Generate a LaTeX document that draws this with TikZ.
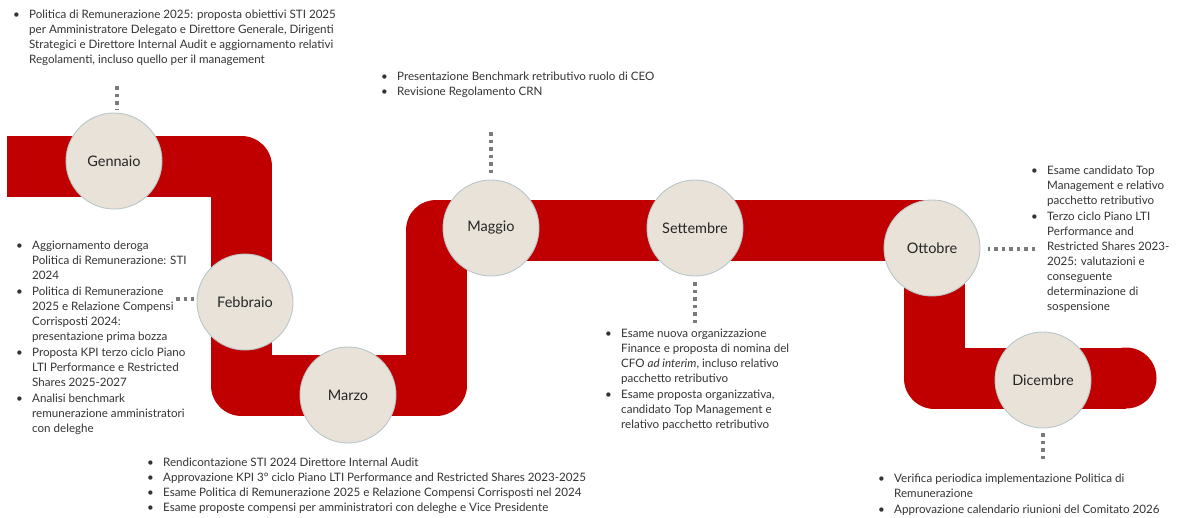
\documentclass[tikz,border=0pt]{standalone}
\usepackage{fontspec}
\setmainfont{Lato}
\usepackage{xcolor}
\usetikzlibrary{positioning}
\definecolor{ribbon}{HTML}{C00000}
\definecolor{disc}{HTML}{E8E2D8}
\definecolor{discline}{HTML}{B9C6C9}
\definecolor{dotgray}{HTML}{7A7A7A}
\definecolor{txt}{HTML}{333333}
\newcommand{\bitem}[1]{\makebox[16pt][l]{\textbullet}\begin{tabular}[t]{@{}l@{}}#1\end{tabular}}

\begin{document}
\begin{tikzpicture}[x=1pt,y=-1pt,
  month/.style={circle,draw=discline,line width=0.9pt,fill=disc,minimum size=96pt,inner sep=0pt,font=\fontsize{14.5}{16}\selectfont,text=black!85},
  notes/.style={anchor=north west,inner sep=0pt,align=left,text=txt,font=\fontsize{11.6}{15}\selectfont},
  dots/.style={dotgray,line width=3.5pt,dash pattern=on 3.5pt off 4pt}
]
\useasboundingbox (0,0) rectangle (1177,517);
\draw[ribbon,line width=61pt,line join=round] (7,166) -- (241,166) -- (241,385) -- (436,385) -- (436,230) -- (934,230) -- (934,378) -- (1126,378);
\fill[ribbon] (1126,378) circle (30.5pt);

\node[month] (gen) at (114,161) {Gennaio};
\node[month] (feb) at (245,302) {Febbraio};
\node[month] (mar) at (348,395) {Marzo};
\node[month] (mag) at (491,228) {Maggio};
\node[month] (set) at (695,228) {Settembre};
\node[month] (ott) at (932,248) {Ottobre};
\node[month] (dic) at (1043,380) {Dicembre};

\coordinate (genT) at (117,86);
\coordinate (febL) at (176,299);
\coordinate (magT) at (491,132);
\coordinate (setB) at (695,323);
\coordinate (ottR) at (1035,249);
\coordinate (dicB) at (1043,459);
\draw[dots] (genT) -- ([yshift=4pt]genT |- gen.north);
\draw[dots] (febL) -- ([xshift=-3pt]febL -| feb.west);
\draw[dots] (magT) -- ([yshift=4pt]mag.north);
\draw[dots] (setB) -- ([yshift=-4pt]set.south);
\draw[dots] (ottR) -- ([xshift=8pt]ottR -| ott.east);
\draw[dots] (dicB) -- ([yshift=-4pt]dic.south);

\node[notes] (genNote) at (13,8) {\bitem{Politica di Remunerazione 2025: proposta obiettivi STI 2025\\ per Amministratore Delegato e Direttore Generale, Dirigenti\\ Strategici e Direttore Internal Audit e aggiornamento relativi\\ Regolamenti, incluso quello per il management}};
\node[notes] (magNote) at (381,70) {\bitem{Presentazione Benchmark retributivo ruolo di CEO}\\ \bitem{Revisione Regolamento CRN}};
\node[notes] (febNote) at (16,239) {\bitem{Aggiornamento deroga\\ Politica di Remunerazione: STI\\ 2024}\\ \bitem{Politica di Remunerazione\\ 2025 e Relazione Compensi\\ Corrisposti 2024:\\ presentazione prima bozza}\\ \bitem{Proposta KPI terzo ciclo Piano\\ LTI Performance e Restricted\\ Shares 2025-2027}\\ \bitem{Analisi benchmark\\ remunerazione amministratori\\ con deleghe}};
\node[notes] (setNote) at (605,327) {\bitem{Esame nuova organizzazione\\ Finance e proposta di nomina del\\ CFO \textit{ad interim}, incluso relativo\\ pacchetto retributivo}\\ \bitem{Esame proposta organizzativa,\\ candidato Top Management e\\ relativo pacchetto retributivo}};
\node[notes] (ottNote) at (1031,164) {\bitem{Esame candidato Top\\ Management e relativo\\ pacchetto retributivo}\\ \bitem{Terzo ciclo Piano LTI\\ Performance and\\ Restricted Shares 2023-\\ 2025: valutazioni e\\ conseguente\\ determinazione di\\ sospensione}};
\node[notes] (marNote) at (147,456) {\bitem{Rendicontazione STI 2024 Direttore Internal Audit}\\ \bitem{Approvazione KPI 3° ciclo Piano LTI Performance and Restricted Shares 2023-2025}\\ \bitem{Esame Politica di Remunerazione 2025 e Relazione Compensi Corrisposti nel 2024}\\ \bitem{Esame proposte compensi per amministratori con deleghe e Vice Presidente}};
\node[notes] (dicNote) at (878,472) {\bitem{Verifica periodica implementazione Politica di\\ Remunerazione}\\ \bitem{Approvazione calendario riunioni del Comitato 2026}};
\end{tikzpicture}
\end{document}
